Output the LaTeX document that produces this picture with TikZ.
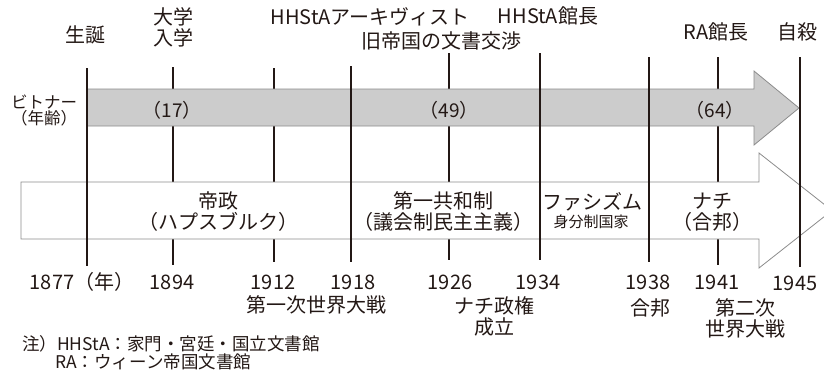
\documentclass[tikz,border=0pt]{standalone}
\usepackage{fontspec}
\setmainfont{Noto Sans CJK JP}
\definecolor{ink}{HTML}{231815}
\definecolor{barfill}{HTML}{CCCCCC}
\definecolor{barline}{HTML}{8C8C8C}
\begin{document}
\begin{tikzpicture}[x=1pt,y=-1pt,
  lbl/.style={font=\fontsize{20}{21}\selectfont, text=ink, inner sep=0pt, align=center},
  agelbl/.style={font=\fontsize{19}{20}\selectfont, text=ink, inner sep=0pt},
  smalllbl/.style={font=\fontsize{15}{16}\selectfont, text=ink, inner sep=0pt, align=center},
  notelbl/.style={font=\fontsize{17.5}{15}\selectfont, text=ink, inner sep=0pt, anchor=west},
  yearline/.style={draw=ink, line width=1.8pt},
  graybar/.style={draw=barline, fill=barfill, line width=0.8pt, line join=miter},
  whitebar/.style={draw=barline, fill=white, line width=0.8pt, line join=miter}]
\useasboundingbox (0,0) rectangle (824,372);

% coordinates of the year lines
\coordinate (t1877) at (87,68);  \coordinate (b1877) at (87,266);
\coordinate (t1894) at (173,67); \coordinate (b1894) at (173,265);
\coordinate (t1912) at (274,68); \coordinate (b1912) at (274,262);
\coordinate (t1918) at (351,66); \coordinate (b1918) at (351,262);
\coordinate (t1926) at (449,53); \coordinate (b1926) at (449,260);
\coordinate (t1934) at (540,53); \coordinate (b1934) at (540,260);
\coordinate (t1938) at (649,57); \coordinate (b1938) at (649,262);
\coordinate (t1941) at (718,57); \coordinate (b1941) at (718,265);
\coordinate (t1945) at (800,57); \coordinate (b1945) at (800,267);

% minor lines (behind the bars)
\foreach \y in {1894,1912,1926,1941} \draw[yearline] (t\y) -- (b\y);

% age arrow (gray)
\draw[graybar] (87,89) -- (754,89) -- (754,71) -- (799,108) -- (754,145) -- (754,126) -- (87,126) -- cycle;
% period arrow (white)
\draw[whitebar] (21,182) -- (759,182) -- (759,153) -- (832,210.5) -- (759,268) -- (759,239) -- (21,239) -- cycle;

% major lines (over the bars)
\foreach \y in {1877,1918,1934,1938,1945} \draw[yearline] (t\y) -- (b\y);

% top labels
\node[lbl] (birth) at (85,35) {生誕};
\node[lbl] (univ) at (173,27.5) {大学\\入学};
\node[lbl] (arch) at (370,17) {HHStAアーキヴィスト};
\node[lbl] (nego) at (441,41) {旧帝国の文書交渉};
\node[lbl] (dir1) at (548,16) {HHStA館長};
\node[lbl] (dir2) at (716,32) {RA館長};
\node[lbl] (death) at (797,32) {自殺};

% age labels
\node[font=\fontsize{16.5}{16}\selectfont, text=ink, inner sep=0pt, align=center] (who) at (44,110) {ビトナー\\（年齢）};
\node[agelbl] (a17) at (172,110) {（17）};
\node[agelbl] (a49) at (449,110) {（49）};
\node[agelbl] (a64) at (715,110) {（64）};

% period labels
\node[lbl] (p1) at (218,212) {帝政\\（ハプスブルク）};
\node[lbl] (p2) at (443,212) {第一共和制\\（議会制民主主義）};
\node[lbl] (p3) at (592,202) {ファシズム};
\node[smalllbl] (p3b) at (591,222) {身分制国家};
\node[lbl] (p4) at (712,212) {ナチ\\（合邦）};

% year labels
\node[lbl] (y1877) at (82,282) {1877（年）};
\node[lbl] (y1894) at (172,282) {1894};
\node[lbl] (y1912) at (273,282) {1912};
\node[lbl] (y1918) at (353,282) {1918};
\node[lbl] (y1926) at (450,282) {1926};
\node[lbl] (y1934) at (538,282) {1934};
\node[lbl] (y1938) at (648,282) {1938};
\node[lbl] (y1941) at (717,282) {1941};
\node[lbl] (y1945) at (795,283) {1945};

% event labels
\node[lbl] (ww1) at (316,305) {第一次世界大戦};
\node[lbl] (nazi) at (494,316.5) {ナチ政権\\成立};
\node[lbl] (anschluss) at (650,308) {合邦};
\node[lbl] (ww2) at (745,318) {第二次\\世界大戦};

% note
\node[notelbl] (note1) at (22,343.5) {注）HHStA：家門・宮廷・国立文書館};
\node[notelbl] (note2) at (55,361.5) {RA：ウィーン帝国文書館};
\end{tikzpicture}
\end{document}
